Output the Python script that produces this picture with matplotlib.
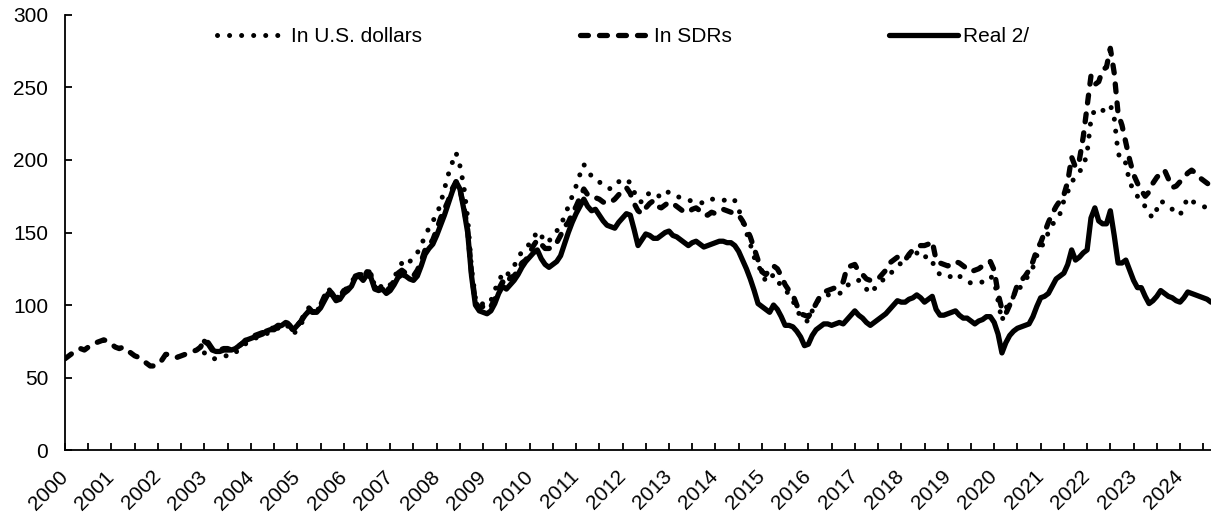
import numpy as np
import matplotlib.pyplot as plt

plt.rcParams['font.family'] = ['Liberation Sans', 'DejaVu Sans']

# monthly index values, Jan 2000 - Sep 2024
sdr = [
    63, 65, 67, 69, 70, 69, 71, 73, 74, 75, 76, 75,          # 2000
    73, 71, 70, 71, 69, 67, 65, 64, 62, 60, 58, 58,          # 2001
    59, 62, 66, 66, 65, 64, 65, 66, 67, 68, 69, 71,          # 2002
    76, 74, 70, 68, 69, 70, 70, 69, 71, 72, 74, 77,          # 2003
    78, 79, 80, 81, 83, 84, 84, 86, 86, 89, 86, 82,          # 2004
    86, 89, 95, 98, 95, 96, 100, 106, 111, 108, 104, 106,    # 2005
    110, 111, 114, 120, 121, 118, 123, 121, 112, 111, 113, 110,  # 2006
    112, 117, 122, 124, 122, 121, 120, 124, 130, 138, 141, 145,  # 2007
    152, 160, 166, 172, 180, 185, 180, 168, 152, 122, 102, 98,   # 2008
    99, 97, 99, 104, 111, 116, 114, 119, 120, 124, 129, 131,     # 2009
    136, 141, 145, 142, 139, 139, 140, 143, 148, 154, 157, 163,  # 2010
    168, 174, 180, 176, 174, 174, 173, 171, 170, 171, 173, 176,  # 2011
    179, 181, 177, 170, 165, 163, 167, 170, 172, 168, 167, 169,  # 2012
    171, 170, 168, 166, 164, 164, 166, 167, 165, 162, 162, 164,  # 2013
    163, 165, 166, 165, 164, 163, 162, 158, 153, 147, 139, 131,  # 2014
    123, 121, 124, 127, 125, 120, 114, 110, 107, 100, 94, 93,    # 2015
    92, 96, 101, 106, 109, 110, 111, 112, 114, 116, 126, 127,    # 2016
    128, 123, 121, 118, 117, 117, 118, 121, 124, 129, 131, 133,  # 2017
    132, 131, 135, 138, 140, 141, 141, 142, 144, 131, 129, 128,  # 2018
    127, 128, 130, 129, 127, 125, 123, 124, 125, 127, 129, 130,  # 2019
    124, 108, 97, 94, 100, 106, 114, 117, 120, 124, 130, 138,    # 2020
    143, 150, 157, 163, 168, 172, 176, 185, 202, 195, 200, 216,  # 2021
    237, 258, 252, 254, 262, 264, 277, 260, 232, 224, 212, 200,  # 2022
    190, 184, 179, 175, 178, 184, 188, 191, 193, 187, 181, 182,  # 2023
    185, 188, 191, 193, 191, 188, 186, 184, 182,                 # 2024
]

# Jan 2003 - Sep 2024
usd = [
    67, 65, 63, 63, 64, 65, 65, 65, 67, 70, 72, 74,              # 2003
    75, 77, 78, 79, 80, 82, 83, 84, 85, 87, 84, 80,              # 2004
    83, 87, 92, 96, 95, 96, 99, 105, 111, 109, 105, 106,         # 2005
    110, 112, 115, 121, 122, 120, 124, 122, 113, 111, 114, 112,  # 2006
    114, 119, 124, 129, 127, 130, 132, 136, 141, 148, 153, 158,  # 2007
    162, 170, 180, 190, 198, 205, 196, 182, 160, 125, 105, 100,  # 2008
    101, 100, 103, 110, 117, 121, 119, 125, 127, 132, 137, 140,  # 2009
    142, 146, 151, 148, 143, 144, 148, 151, 155, 161, 168, 175,  # 2010
    182, 190, 197, 192, 189, 188, 185, 182, 181, 180, 182, 185,  # 2011
    186, 187, 184, 178, 172, 171, 176, 177, 178, 176, 174, 177,  # 2012
    178, 177, 175, 174, 173, 172, 172, 171, 171, 170, 171, 173,  # 2013
    173, 172, 172, 173, 174, 172, 166, 158, 150, 142, 133, 127,  # 2014
    123, 116, 118, 121, 117, 113, 111, 107, 103, 97, 92, 89,     # 2015
    89, 96, 102, 104, 106, 107, 107, 107, 108, 109, 113, 116,    # 2016
    117, 117, 114, 111, 108, 111, 115, 117, 118, 121, 124, 127,  # 2017
    129, 131, 134, 138, 136, 132, 133, 134, 130, 124, 121, 120,  # 2018
    119, 120, 122, 120, 118, 117, 115, 115, 115, 116, 118, 120,  # 2019
    117, 103, 89, 98, 101, 106, 110, 113, 117, 121, 126, 134,    # 2020
    139, 144, 150, 155, 160, 163, 172, 178, 185, 188, 192, 195,  # 2021
    205, 228, 235, 234, 234, 236, 238, 229, 205, 198, 198, 184,  # 2022
    180, 175, 171, 168, 163, 160, 166, 172, 170, 168, 166, 164,  # 2023
    162, 168, 174, 172, 170, 169, 168, 167, 168,                 # 2024
]

real = [
    75, 73, 69, 68, 68, 69, 69, 69, 70, 72, 74, 76,              # 2003
    77, 78, 79, 80, 82, 83, 83, 85, 86, 88, 86, 83,              # 2004
    86, 89, 93, 96, 95, 95, 98, 103, 108, 107, 103, 104,         # 2005
    108, 110, 113, 119, 120, 117, 121, 119, 111, 110, 111, 108,  # 2006
    110, 114, 119, 121, 120, 118, 117, 120, 127, 135, 139, 142,  # 2007
    148, 155, 162, 170, 178, 185, 180, 166, 150, 120, 100, 96,   # 2008
    95, 94, 96, 101, 108, 113, 111, 114, 117, 121, 126, 130,     # 2009
    133, 136, 138, 132, 128, 126, 128, 130, 134, 142, 150, 157,  # 2010
    163, 168, 173, 168, 165, 166, 162, 158, 155, 154, 153, 157,  # 2011
    160, 163, 162, 152, 141, 145, 149, 148, 146, 146, 148, 150,  # 2012
    151, 148, 147, 145, 143, 141, 143, 144, 142, 140, 141, 142,  # 2013
    143, 144, 144, 143, 143, 141, 137, 131, 125, 118, 110, 101,  # 2014
    99, 97, 95, 100, 97, 92, 86, 86, 85, 82, 78, 72,             # 2015
    73, 79, 83, 85, 87, 87, 86, 87, 88, 87, 90, 93,              # 2016
    96, 93, 91, 88, 86, 88, 90, 92, 94, 97, 100, 103,            # 2017
    102, 102, 104, 105, 107, 105, 102, 104, 106, 97, 93, 93,     # 2018
    94, 95, 96, 93, 91, 91, 89, 87, 89, 90, 92, 92,              # 2019
    88, 80, 67, 74, 79, 82, 84, 85, 86, 87, 92, 99,              # 2020
    105, 106, 108, 113, 118, 120, 122, 128, 138, 131, 133, 136,  # 2021
    138, 160, 167, 158, 156, 156, 165, 148, 129, 129, 131, 124,  # 2022
    117, 112, 112, 106, 101, 103, 106, 110, 108, 106, 105, 103,  # 2023
    102, 105, 109, 108, 107, 106, 105, 104, 102,                 # 2024
]

years = list(range(2000, 2025))

months = np.arange(len(sdr))
later = months[len(sdr) - len(usd):]

fig = plt.figure(figsize=(12.11, 5.15), dpi=100)
ax = fig.add_axes([0.0537, 0.126, 0.9463, 0.845])

ax.plot(later, usd, color='black', linewidth=3.6, linestyle=(0, (0.01, 2.4)),
        dash_capstyle='round', label='In U.S. dollars')
ax.plot(months, sdr, color='black', linewidth=3.8, linestyle=(0, (1.5, 2.1)),
        dash_capstyle='round', label='In SDRs')
ax.plot(later, real, color='black', linewidth=3.8, linestyle='-',
        solid_capstyle='round', label='Real 2/')

ax.set_xlim(0, len(sdr) - 1)
ax.set_ylim(0, 300)
ax.set_yticks(range(0, 301, 50))
ax.set_xticks(np.arange(0, len(sdr), 6))
ax.set_xticklabels([str(years[i // 12]) if i % 12 == 0 else '' for i in range(0, len(sdr), 6)],
                   rotation=45, ha='right', va='center', rotation_mode='anchor')

ax.tick_params(axis='both', direction='in', length=5, width=1.3, labelsize=15, colors='black')
ax.tick_params(axis='x', pad=17)
ax.tick_params(axis='y', pad=12)
for s in ['top', 'right']:
    ax.spines[s].set_visible(False)
for s in ['left', 'bottom']:
    ax.spines[s].set_linewidth(1.3)

ax.legend(loc='center', bbox_to_anchor=(0.487, 0.95), ncol=3, frameon=False,
          fontsize=15, handlelength=3.3, handletextpad=0.25, columnspacing=7.55)

plt.savefig('out.png', dpi=100)
